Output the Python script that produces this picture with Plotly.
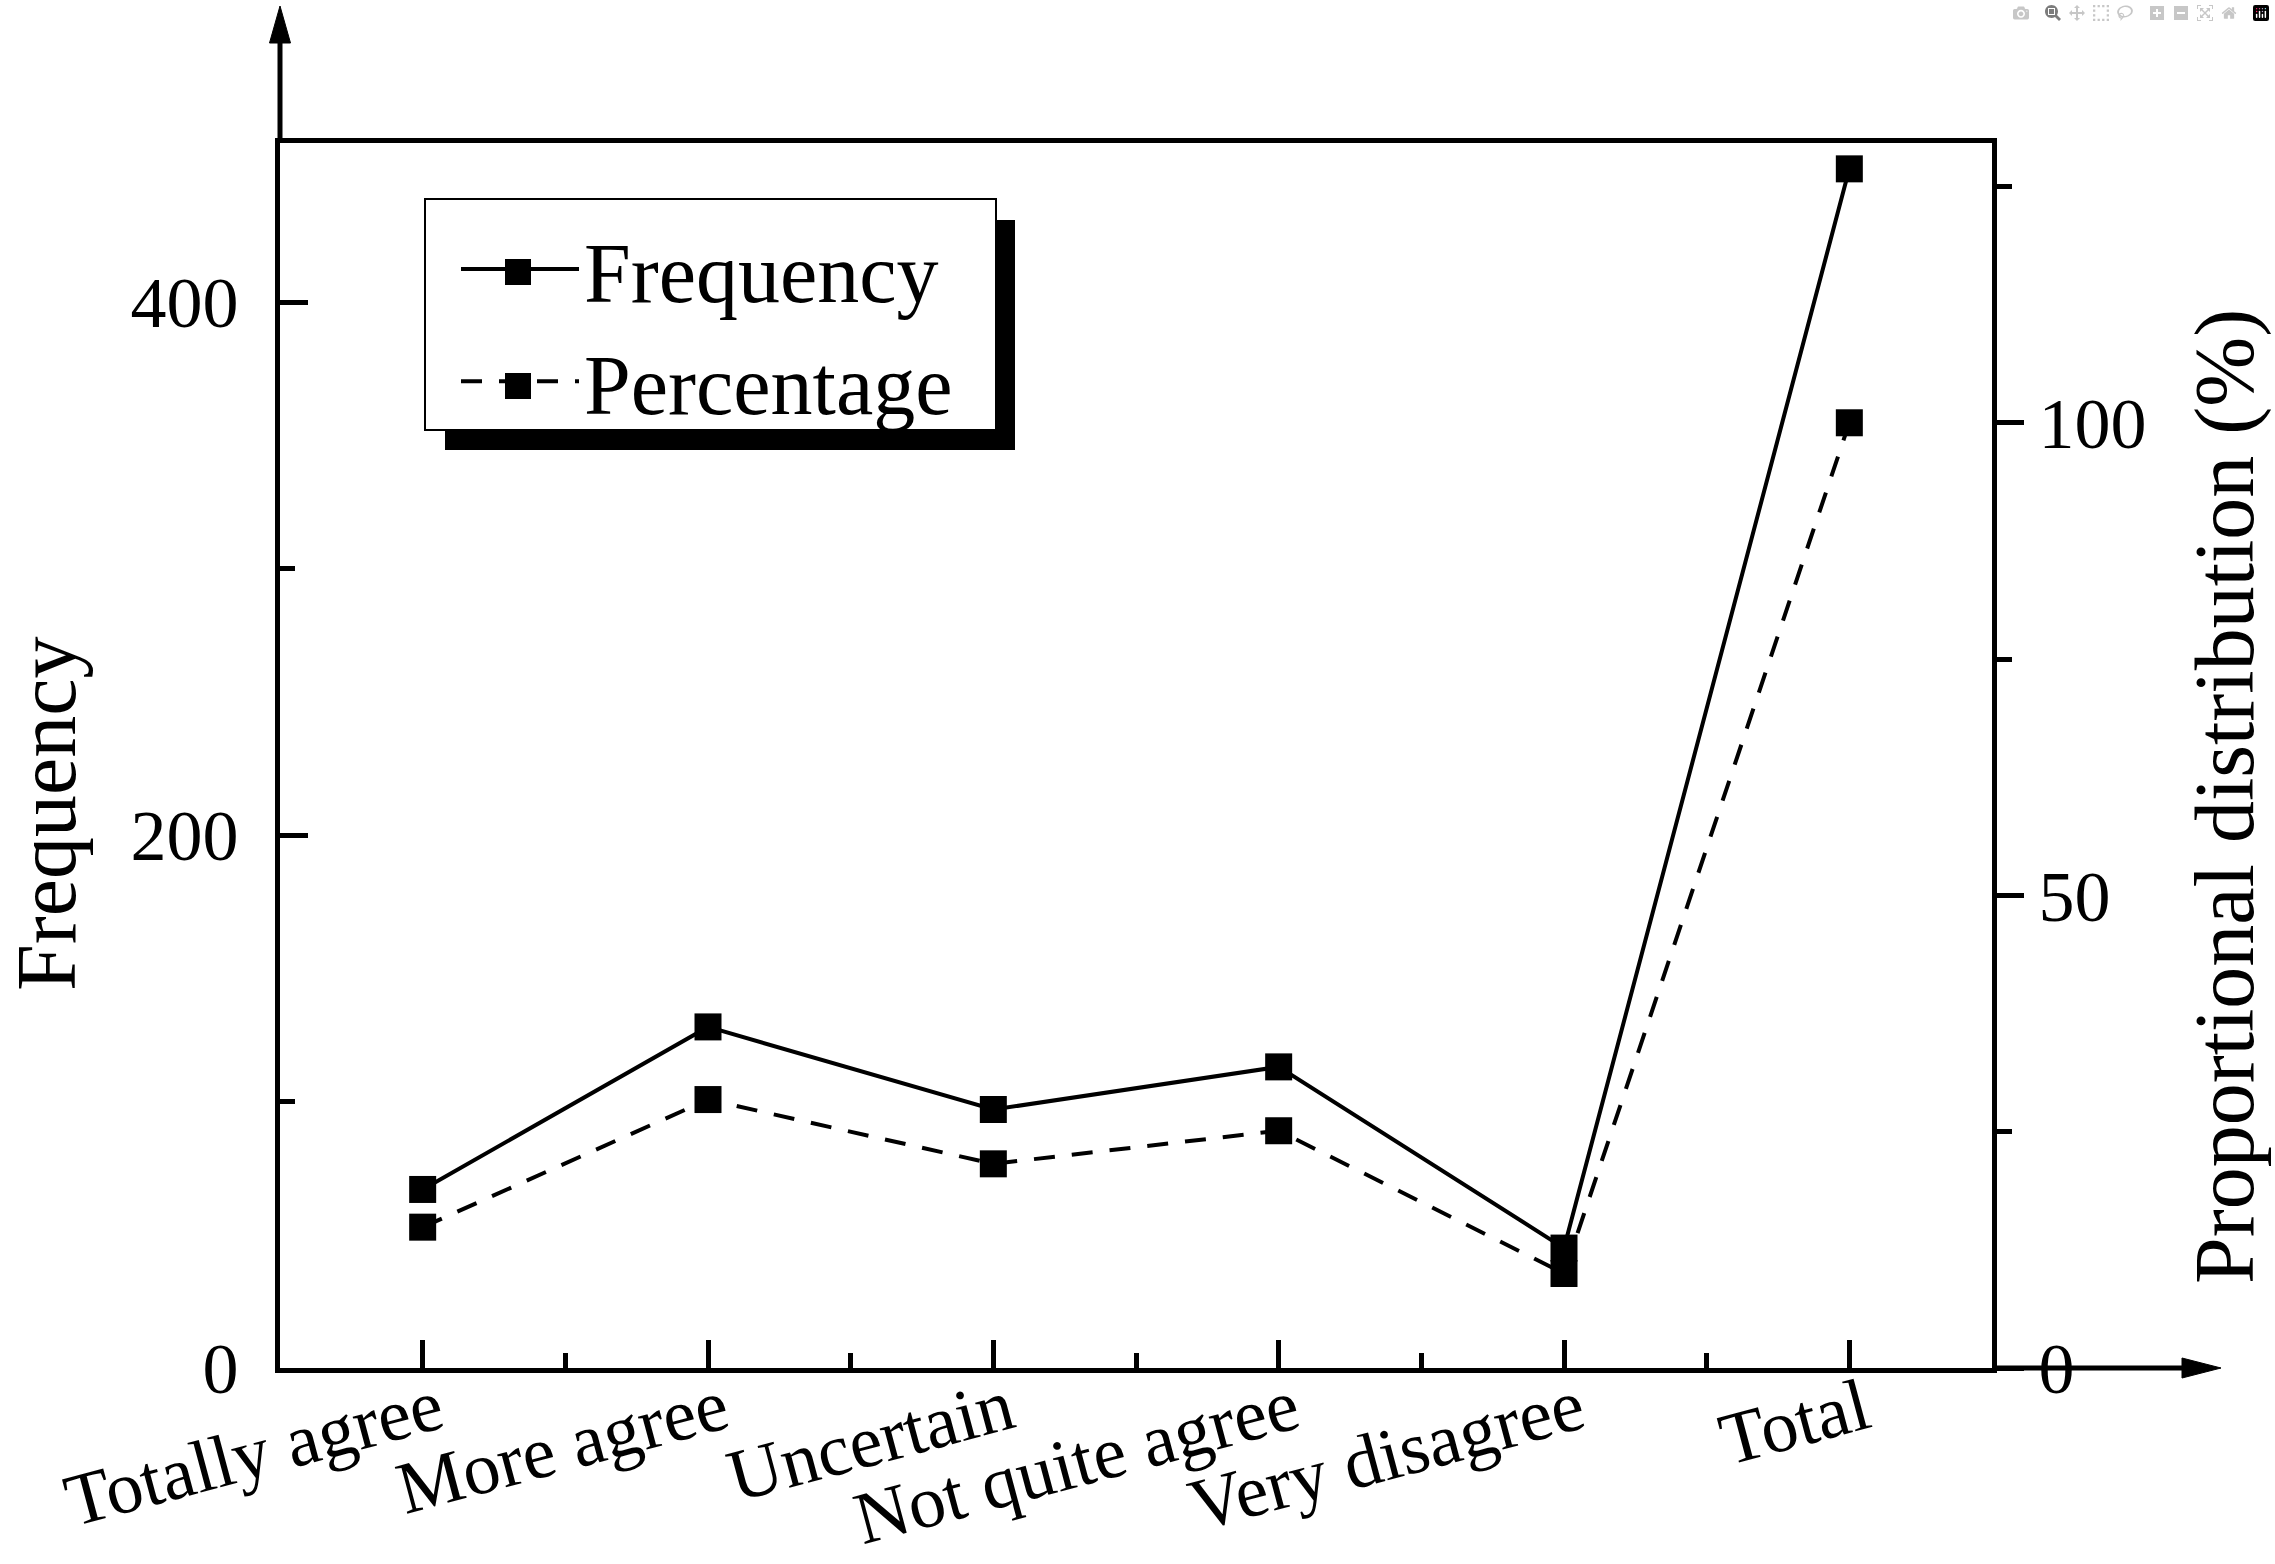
import plotly.graph_objects as go

# ---------------- data ----------------
categories = ["Totally agree", "More agree", "Uncertain", "Not quite agree", "Very disagree", "Total"]
frequency = [67, 128, 97, 113, 45, 450]
percentage = [14.9, 28.4, 21.6, 25.1, 10.0, 100.0]
left_ticks = [0, 200, 400]
left_minor = [100, 300]
right_ticks = [0, 50, 100]
right_minor = [25, 75, 125]

x_pos = list(range(len(categories)))
x_minor = [i + 0.5 for i in x_pos[:-1]]

# ---------------- geometry ----------------
W, H = 2275, 1564
L, R, T, B = 280, 283, 143, 196
PW = W - L - R
PH = H - T - B


def px(x):
    return (x - L) / PW


def py(y):
    return (H - B - y) / PH


FONT = "Liberation Serif"
BLACK = "black"

fig = go.Figure()
fig.add_trace(go.Scatter(
    x=x_pos, y=frequency, name="Frequency", mode="lines+markers",
    line=dict(color=BLACK, width=4),
    marker=dict(symbol="square", size=27, color=BLACK),
    yaxis="y",
))
fig.add_trace(go.Scatter(
    x=x_pos, y=percentage, name="Percentage", mode="lines+markers",
    line=dict(color=BLACK, width=4, dash="21px,17px"),
    marker=dict(symbol="square", size=27, color=BLACK),
    yaxis="y2",
))

tick_font = dict(family=FONT, size=72, color=BLACK)
title_font = dict(family=FONT, size=84, color=BLACK)

fig.update_layout(
    width=W, height=H,
    margin=dict(l=L, r=R, t=T, b=B, pad=0, autoexpand=False),
    paper_bgcolor="white", plot_bgcolor="white",
    font=dict(family=FONT, color=BLACK),
    xaxis=dict(
        range=[-0.5, len(categories) - 0.5],
        tickmode="array", tickvals=x_pos, ticktext=categories,
        tickangle=-15, tickfont=dict(family=FONT, size=74, color=BLACK),
        ticklabelstandoff=-34, ticklabelshift=15,
        ticks="inside", ticklen=28, tickwidth=5, tickcolor=BLACK,
        minor=dict(tickmode="array", tickvals=x_minor, ticks="inside",
                   ticklen=15, tickwidth=5, tickcolor=BLACK),
        showline=True, linewidth=5, linecolor=BLACK, mirror=True,
        showgrid=False, zeroline=False, automargin=False,
    ),
    yaxis=dict(
        range=[0, 459.7],
        tickmode="array", tickvals=left_ticks, tickfont=tick_font,
        ticks="inside", ticklen=28, tickwidth=5, tickcolor=BLACK,
        ticklabelstandoff=22,
        minor=dict(tickmode="array", tickvals=left_minor, ticks="inside",
                   ticklen=15, tickwidth=5, tickcolor=BLACK),
        showline=True, linewidth=5, linecolor=BLACK,
        showgrid=False, zeroline=False, automargin=False,
    ),
    yaxis2=dict(
        overlaying="y", side="right", anchor="x",
        range=[0, 129.6],
        tickmode="array", tickvals=right_ticks, tickfont=tick_font,
        ticks="outside", ticklen=27, tickwidth=5, tickcolor=BLACK,
        minor=dict(tickmode="array", tickvals=right_minor, ticks="outside",
                   ticklen=15, tickwidth=5, tickcolor=BLACK),
        showline=True, linewidth=5, linecolor=BLACK,
        showgrid=False, zeroline=False, automargin=False,
    ),
    legend=dict(
        x=px(456), y=py(208), xanchor="left", yanchor="top",
        bgcolor="rgba(0,0,0,0)", borderwidth=0,
        font=dict(family=FONT, size=84, color=BLACK),
        itemwidth=118,
    ),
    showlegend=True,
)

# axis titles
fig.add_annotation(text="Frequency", xref="paper", yref="paper",
                   x=px(46), y=py(814), xanchor="center", yanchor="middle",
                   textangle=-90, showarrow=False, font=title_font)
fig.add_annotation(text="Proportional distribution (%)", xref="paper", yref="paper",
                   x=px(2225), y=py(797), xanchor="center", yanchor="middle",
                   textangle=-90, showarrow=False, font=title_font)

# decorations: legend frame with drop shadow, enlarged legend swatches, axis arrows
SW = 13  # half size of legend swatch squares


def swatch(cx, cy):
    return dict(type="rect", xref="paper", yref="paper",
                x0=px(cx - SW), x1=px(cx + SW), y0=py(cy + SW), y1=py(cy - SW),
                fillcolor=BLACK, line=dict(width=0), layer="above")


shapes = [
    dict(type="rect", xref="paper", yref="paper",
         x0=px(445), x1=px(1015), y0=py(450), y1=py(220),
         fillcolor=BLACK, line=dict(width=0), layer="above"),
    dict(type="rect", xref="paper", yref="paper",
         x0=px(425), x1=px(996), y0=py(430), y1=py(199),
         fillcolor="white", line=dict(color=BLACK, width=2), layer="above"),
    swatch(518, 272),
    swatch(518, 386),
    dict(type="line", xref="paper", yref="paper",
         x0=0, x1=0, y0=1, y1=py(40), line=dict(color=BLACK, width=5)),
    dict(type="path", xref="paper", yref="paper",
         path=f"M {px(L - 10.5)},{py(43)} L {px(L)},{py(6)} L {px(L + 10.5)},{py(43)} Z",
         fillcolor=BLACK, line=dict(color=BLACK, width=1)),
    dict(type="line", xref="paper", yref="paper",
         x0=1, x1=px(2185), y0=0, y1=0, line=dict(color=BLACK, width=5)),
    dict(type="path", xref="paper", yref="paper",
         path=f"M {px(2182)},{py(1368 - 10)} L {px(2221)},{py(1368)} L {px(2182)},{py(1368 + 10)} Z",
         fillcolor=BLACK, line=dict(color=BLACK, width=1)),
]
fig.update_layout(shapes=shapes)

fig.write_html("out.html", post_script="document.body.style.margin='0';")
